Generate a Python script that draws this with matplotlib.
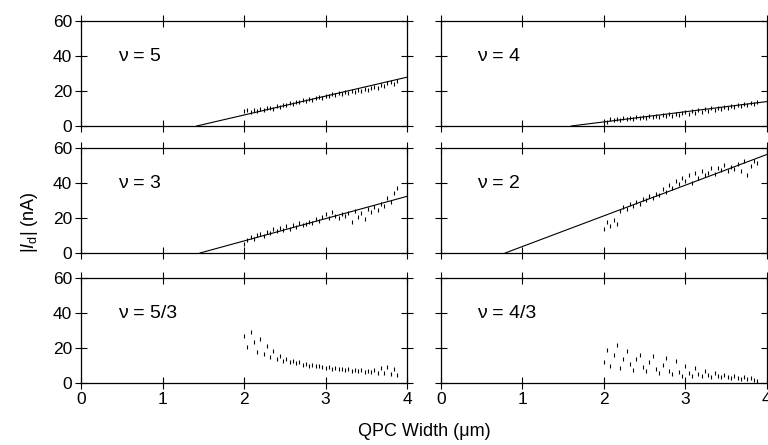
import matplotlib
matplotlib.use("Agg")
import matplotlib.pyplot as plt

plt.rcParams['font.family'] = ['Liberation Sans', 'DejaVu Sans']
plt.rcParams['mathtext.fontset'] = 'custom'
plt.rcParams['mathtext.rm'] = 'Liberation Sans'
plt.rcParams['mathtext.it'] = 'Liberation Sans:italic'

# QPC width (um) of the measured points, shared by all panels
width = [2.00, 2.04, 2.08, 2.12, 2.16, 2.20, 2.24, 2.28, 2.32, 2.36,
         2.40, 2.44, 2.48, 2.52, 2.56, 2.60, 2.64, 2.68, 2.72, 2.76,
         2.80, 2.84, 2.88, 2.92, 2.96, 3.00, 3.04, 3.08, 3.12, 3.16,
         3.20, 3.24, 3.28, 3.32, 3.36, 3.40, 3.44, 3.48, 3.52, 3.56,
         3.60, 3.64, 3.68, 3.72, 3.76, 3.80, 3.84, 3.88]

# |I_d| (nA) for each filling factor
i_nu5 = [8.5, 9.0, 8.2, 9.1, 8.8, 9.6, 9.3, 10.1, 10.4, 10.0,
         11.2, 11.0, 12.1, 11.8, 13.0, 12.6, 13.9, 13.5, 14.8, 14.3,
         15.6, 15.1, 16.2, 16.8, 16.0, 17.4, 17.0, 18.2, 17.6, 18.9,
         18.3, 19.4, 19.0, 20.1, 19.5, 20.6, 20.2, 21.3, 20.8, 21.9,
         22.5, 21.6, 23.4, 22.8, 24.6, 25.3, 23.9, 25.8]
i_nu4 = [3.0, 2.5, 3.8, 3.2, 4.0, 3.5, 4.3, 3.9, 4.6, 4.1,
         5.0, 4.4, 5.3, 4.8, 5.6, 5.1, 5.9, 5.4, 6.3, 5.7,
         6.6, 6.0, 7.0, 6.4, 7.3, 7.8, 7.1, 8.4, 7.7, 9.0,
         8.2, 9.5, 8.8, 10.1, 9.3, 10.5, 9.8, 11.0, 10.2, 11.4,
         10.7, 12.0, 11.3, 12.6, 11.8, 13.3, 12.4, 13.8]
i_nu3 = [5.0, 7.5, 9.0, 8.2, 10.5, 11.0, 9.8, 12.3, 11.5, 13.8,
         12.7, 14.5, 13.4, 15.2, 14.0, 16.1, 15.0, 17.2, 15.8, 16.5,
         18.0, 17.2, 19.5, 18.3, 20.6, 22.5, 19.8, 23.4, 21.0, 20.2,
         22.3, 21.5, 23.0, 17.8, 24.2, 20.5, 22.8, 19.5, 25.0, 23.6,
         26.5, 24.8, 28.0, 27.2, 31.5, 29.0, 34.5, 37.5]
i_nu2 = [14.0, 17.5, 15.2, 19.0, 16.5, 24.0, 26.5, 25.2, 28.0, 26.8,
         29.5, 28.3, 31.0, 30.2, 32.5, 31.4, 34.0, 33.0, 36.5, 35.2,
         38.8, 37.0, 41.5, 39.5, 43.0, 41.2, 44.5, 40.0, 45.8, 43.3,
         47.2, 44.6, 46.0, 48.5, 45.2, 49.0, 47.5, 50.5, 46.8, 49.5,
         48.0, 51.2, 47.0, 52.5, 45.0, 49.8, 53.0, 51.5]
i_nu53 = [27.0, 20.5, 29.0, 23.5, 18.0, 25.0, 16.5, 21.0, 14.8, 18.5,
          13.5, 15.5, 12.8, 14.0, 12.0, 12.8, 11.2, 11.8, 10.5, 11.0,
          10.0, 10.3, 9.5, 9.8, 9.0, 8.8, 9.2, 8.3, 8.6, 7.9,
          8.1, 7.5, 7.8, 7.0, 7.4, 6.8, 7.2, 6.5, 7.0, 6.2,
          7.5, 5.8, 8.5, 6.0, 9.0, 5.2, 8.0, 4.5]
i_nu43 = [12.0, 19.0, 9.5, 16.0, 22.0, 8.5, 14.0, 18.5, 11.0, 7.5,
          13.5, 16.0, 9.0, 6.8, 12.0, 15.5, 8.0, 5.5, 10.5, 14.5,
          7.0, 5.0, 12.5, 6.5, 4.2, 10.0, 5.8, 4.0, 8.5, 5.2,
          3.8, 6.8, 4.6, 3.5, 5.5, 4.2, 3.2, 4.8, 3.6, 2.8,
          4.0, 3.0, 2.5, 3.2, 2.2, 2.6, 1.8, 1.2]

# linear fits (end points)
fit_nu5 = ([1.42, 4.0], [0, 28.0])
fit_nu4 = ([1.60, 4.0], [0, 14.0])
fit_nu3 = ([1.46, 4.0], [0, 32.5])
fit_nu2 = ([0.79, 4.0], [0, 56.5])

panels = [
    ("\u03bd = 5", i_nu5, fit_nu5),
    ("\u03bd = 4", i_nu4, fit_nu4),
    ("\u03bd = 3", i_nu3, fit_nu3),
    ("\u03bd = 2", i_nu2, fit_nu2),
    ("\u03bd = 5/3", i_nu53, None),
    ("\u03bd = 4/3", i_nu43, None),
]

fig = plt.figure(figsize=(7.68, 4.45), dpi=100)
lefts = [0.1055, 0.574]
bottoms = [0.7169, 0.4315, 0.1393]
w, h = 0.4245, 0.235

for k, (label, vals, fit) in enumerate(panels):
    row, col = divmod(k, 2)
    ax = fig.add_axes([lefts[col], bottoms[row], w, h])
    ax.plot(width, vals, ls='none', marker='|', ms=3.5, mew=0.8, color='black')
    if fit is not None:
        ax.plot(fit[0], fit[1], color='black', lw=0.8)
    ax.set_xlim(0, 4)
    ax.set_ylim(0, 60)
    ax.set_xticks([0, 1, 2, 3, 4])
    ax.set_yticks([0, 20, 40, 60])
    ax.tick_params(direction='inout', length=9, width=0.8, top=True, right=True,
                   labelsize=12.5, pad=2)
    for s in ax.spines.values():
        s.set_linewidth(0.9)
    if col == 1:
        ax.tick_params(labelleft=False)
    if row < 2:
        ax.tick_params(labelbottom=False)
    ax.text(0.45, 40, label, fontsize=14, va='center', ha='left')

fig.text(0.039, 0.50, r'$|I_\mathrm{d}|$ (nA)', rotation=90, fontsize=13,
         ha='center', va='center')
fig.text(0.553, 0.03, 'QPC Width (\u03bcm)', fontsize=13, ha='center', va='center')

fig.savefig('out.png', dpi=100)
